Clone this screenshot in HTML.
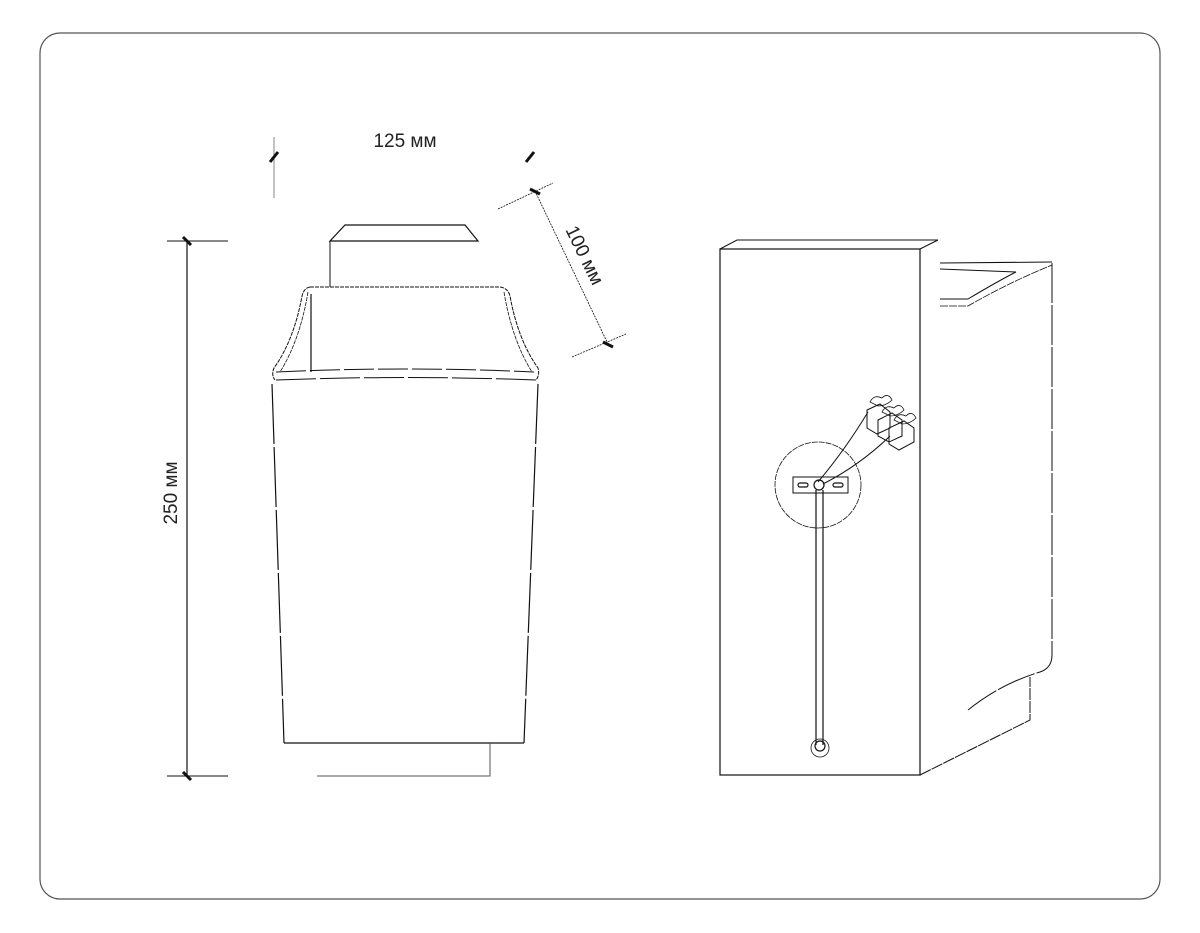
<!DOCTYPE html>
<html><head><meta charset="utf-8"><style>
html,body{margin:0;padding:0;background:#fff;}
svg{display:block;}
text{font-family:"Liberation Sans",sans-serif;fill:#222;}
</style></head><body>
<svg width="1200" height="933" viewBox="0 0 1200 933" xmlns="http://www.w3.org/2000/svg">
<rect x="40" y="33" width="1120" height="866" rx="20" ry="20" fill="#fff" stroke="#555" stroke-width="1.2"/>
<g fill="none" stroke="#111" stroke-width="1.2">
<line x1="274" y1="137" x2="274" y2="198" stroke="#666" stroke-width="0.8"/>
<line x1="270" y1="162" x2="278" y2="152" stroke-width="3"/>
<line x1="526" y1="162" x2="534" y2="152" stroke-width="3"/>
<line x1="167" y1="241" x2="228" y2="241" stroke-width="1"/>
<line x1="167" y1="776" x2="228" y2="776" stroke-width="1"/>
<line x1="187" y1="241" x2="187" y2="776"/>
<line x1="183" y1="237" x2="191" y2="245" stroke-width="3"/>
<line x1="183" y1="772" x2="191" y2="780" stroke-width="3"/>
<line x1="498" y1="209" x2="553" y2="183" stroke-width="0.8" stroke-dasharray="2,1"/>
<line x1="572" y1="357" x2="626" y2="334" stroke-width="0.8" stroke-dasharray="2,1"/>
<line x1="535" y1="191" x2="608" y2="344" stroke-width="0.8" stroke-dasharray="2,1"/>
<line x1="530" y1="189" x2="540" y2="194" stroke-width="3"/>
<line x1="603" y1="342" x2="613" y2="347" stroke-width="3"/>
<path d="M345 225 L465 225 L478 241 L330 241 Z"/>
<line x1="330" y1="241" x2="330" y2="287" stroke-width="1"/>
<path d="M310 287 L500 287 Q508 288 510 296 Q518 340 538 368 Q540 375 536 380" stroke-width="1" stroke-dasharray="4,1"/>
<path d="M504 292 Q512 340 532 372" stroke-width="0.8" stroke-dasharray="4,1"/>
<path d="M310 287 Q304 288 302 296 Q294 340 274 368 Q271 375 275 380" stroke-width="1" stroke-dasharray="4,1"/>
<path d="M308 292 Q300 340 280 372" stroke-width="0.8" stroke-dasharray="4,1"/>
<line x1="311" y1="294" x2="311" y2="372"/>
<path d="M276 372 Q405 366 534 372" stroke-width="1" stroke-dasharray="30,4"/>
<path d="M276 380 Q405 375 536 380" stroke-width="1" stroke-dasharray="40,4"/>
<line x1="272" y1="384" x2="284" y2="743" stroke-dasharray="60,3"/>
<line x1="538" y1="384" x2="524" y2="743" stroke-dasharray="60,3"/>
<line x1="284" y1="743" x2="524" y2="743"/>
<path d="M317 776 L490 776 L490 743" stroke="#555" stroke-width="1"/>
<rect x="720" y="249" width="200" height="526"/>
<path d="M720 249 L737 240 L938 240 L920 249" stroke-width="1"/>
<path d="M920 775 L1030 720 L1030 677" stroke-width="1" stroke-dasharray="12,1"/>
<path d="M1052 263 L1052 655 Q1052 668 1040 672 Q1000 684 968 710" stroke-width="1" stroke-dasharray="40,2"/>
<path d="M940 263 L1052 262" stroke-width="1"/>
<path d="M940 269 L1016 272 Q1000 280 968 299 L940 299" stroke-width="1"/>
<path d="M940 306 L968 306 Q1010 282 1052 265" stroke-width="0.8" stroke-dasharray="8,1"/>
<circle cx="818" cy="485" r="43" stroke-width="0.8" stroke-dasharray="6,1"/>
<rect x="793" y="477" width="55" height="16" stroke-width="1"/>
<rect x="798" y="483" width="10" height="4" rx="2"/>
<rect x="833" y="483" width="10" height="4" rx="2"/>
<circle cx="819" cy="485" r="5"/>
<line x1="816" y1="490" x2="816" y2="745"/>
<line x1="823" y1="490" x2="823" y2="745"/>
<circle cx="820" cy="746" r="5"/>
<circle cx="820" cy="748" r="9" stroke-width="0.8"/>
<path d="M818 482 Q845 450 868 412" stroke-width="1"/>
<path d="M823 484 Q860 465 890 436" stroke-width="1"/>
<path d="M867 410 L880 404 L890 412 L890 428 L877 434 L867 428 Z" stroke-width="1"/>
<path d="M878 420 L892 413 L902 420 L902 436 L889 442 L878 436 Z" stroke-width="1"/>
<path d="M889 428 L904 421 L914 428 L914 442 L899 450 L889 444 Z" stroke-width="1"/>
<path d="M870 402 Q874 394 882 398 Q888 392 892 400 Q886 406 878 406 Z" stroke-width="0.8"/>
<path d="M882 412 Q886 404 894 408 Q900 402 904 410 Q898 416 890 416 Z" stroke-width="0.8"/>
<path d="M894 420 Q898 412 906 416 Q912 410 916 418 Q910 424 902 424 Z" stroke-width="0.8"/>
</g>
<text x="405" y="147" font-size="19" text-anchor="middle">125 мм</text>
<text x="0" y="0" font-size="19" text-anchor="middle" transform="translate(579,258) rotate(64)">100 мм</text>
<text x="0" y="0" font-size="19" text-anchor="middle" transform="translate(177,493) rotate(-90)">250 мм</text>
</svg>
</body></html>
